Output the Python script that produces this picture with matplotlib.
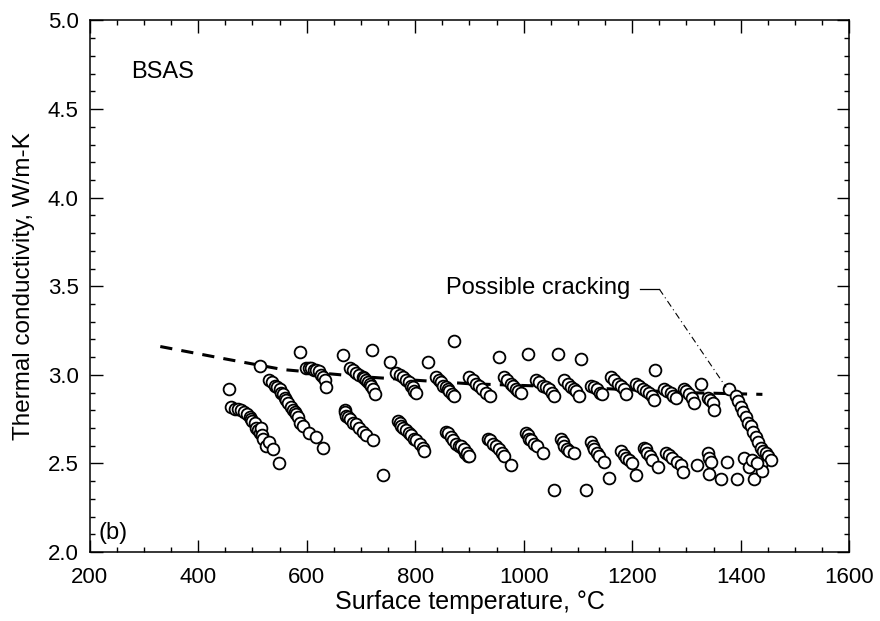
import matplotlib.pyplot as plt
from matplotlib.ticker import MultipleLocator

plt.rcParams['font.family'] = ['Liberation Sans', 'DejaVu Sans']

# measured points (surface temperature, C / thermal conductivity, W/m-K)
temp = [
    456, 514, 587, 666, 721, 740, 754, 823, 872, 954, 1008, 1064, 1105, 1242, 1326, 1379, 1056, 1115, 1158,
    461, 468, 473, 478, 485, 490, 495, 498, 500, 504, 507, 510, 513, 515, 518, 520, 525, 530, 538, 549,
    531, 536, 541, 546, 550, 553, 556, 559, 562, 566, 571, 575, 578, 581, 584, 588, 593, 605, 617, 630,
    599, 604, 608, 613, 617, 622, 627, 630, 633, 636,
    679, 685, 691, 697, 703, 706, 709, 713, 716, 719, 722, 725,
    670, 671, 673, 676, 679, 685, 691, 697, 703, 709, 722,
    765, 771, 777, 783, 789, 792, 795, 798, 801,
    768, 771, 774, 778, 783, 788, 792, 797, 801, 808, 814, 817,
    838, 843, 848, 852, 857, 860, 863, 868, 872,
    857, 861, 866, 870, 875, 881, 887, 892, 897,
    900, 906, 912, 918, 924, 930, 937,
    884, 890, 895, 900,
    964, 970, 976, 981, 986, 990, 995,
    934, 938, 943, 949, 955, 960, 964, 976,
    1022, 1028, 1035, 1041, 1047, 1052, 1056,
    1004, 1007, 1010, 1014, 1019, 1024, 1035,
    1075, 1081, 1087, 1092, 1096, 1102,
    1069, 1072, 1075, 1080, 1084, 1093,
    1124, 1130, 1136, 1140, 1145,
    1124, 1127, 1130, 1135, 1139, 1148,
    1161, 1167, 1173, 1179, 1185, 1188,
    1179, 1184, 1188, 1194, 1200, 1207,
    1207, 1213, 1219, 1225, 1231, 1236, 1240,
    1222, 1225, 1228, 1233, 1237, 1247,
    1259, 1265, 1271, 1276, 1280,
    1262, 1268, 1274, 1282, 1290, 1293,
    1296, 1300, 1305, 1310, 1314,
    1339, 1344, 1348, 1351,
    1320, 1339, 1342, 1345, 1342, 1363,
    1391, 1395, 1400, 1404, 1409, 1414, 1419, 1423, 1428, 1432, 1437, 1442, 1446, 1450, 1455,
    1375, 1394, 1406, 1425, 1416, 1437, 1440, 1420, 1430,
]
cond = [
    2.92, 3.05, 3.13, 3.11, 3.14, 2.435, 3.075, 3.07, 3.19, 3.10, 3.12, 3.12, 3.09, 3.03, 2.95, 2.92, 2.35, 2.35, 2.42,
    2.82, 2.81, 2.81, 2.80, 2.79, 2.78, 2.76, 2.75, 2.74, 2.73, 2.70, 2.69, 2.67, 2.70, 2.66, 2.64, 2.60, 2.62, 2.58, 2.50,
    2.97, 2.96, 2.94, 2.93, 2.92, 2.90, 2.89, 2.87, 2.86, 2.84, 2.82, 2.80, 2.79, 2.78, 2.76, 2.73, 2.71, 2.67, 2.65, 2.59,
    3.04, 3.04, 3.04, 3.03, 3.03, 3.02, 3.00, 2.99, 2.97, 2.93,
    3.04, 3.03, 3.01, 3.00, 2.99, 2.98, 2.97, 2.96, 2.95, 2.94, 2.92, 2.89,
    2.80, 2.79, 2.77, 2.76, 2.75, 2.73, 2.72, 2.70, 2.68, 2.66, 2.63,
    3.01, 3.00, 2.99, 2.97, 2.96, 2.94, 2.93, 2.91, 2.90,
    2.74, 2.73, 2.71, 2.70, 2.69, 2.67, 2.66, 2.64, 2.63, 2.61, 2.59, 2.57,
    2.99, 2.97, 2.96, 2.94, 2.93, 2.92, 2.91, 2.89, 2.88,
    2.68, 2.67, 2.65, 2.63, 2.61, 2.60, 2.59, 2.56, 2.54,
    2.99, 2.97, 2.95, 2.94, 2.92, 2.90, 2.88,
    2.60, 2.58, 2.56, 2.54,
    2.99, 2.97, 2.95, 2.94, 2.92, 2.91, 2.90,
    2.64, 2.63, 2.61, 2.60, 2.58, 2.56, 2.54, 2.49,
    2.97, 2.96, 2.94, 2.93, 2.92, 2.90, 2.88,
    2.67, 2.66, 2.64, 2.63, 2.61, 2.60, 2.56,
    2.97, 2.95, 2.93, 2.92, 2.91, 2.88,
    2.64, 2.62, 2.60, 2.58, 2.57, 2.56,
    2.94, 2.93, 2.92, 2.90, 2.89,
    2.62, 2.60, 2.58, 2.56, 2.54, 2.51,
    2.99, 2.97, 2.95, 2.94, 2.92, 2.89,
    2.57, 2.55, 2.53, 2.52, 2.50, 2.435,
    2.95, 2.94, 2.92, 2.91, 2.90, 2.88, 2.86,
    2.59, 2.58, 2.56, 2.54, 2.52, 2.48,
    2.92, 2.91, 2.90, 2.88, 2.87,
    2.56, 2.55, 2.53, 2.51, 2.49, 2.45,
    2.92, 2.91, 2.89, 2.87, 2.84,
    2.87, 2.86, 2.84, 2.80,
    2.49, 2.56, 2.53, 2.51, 2.44, 2.41,
    2.88, 2.85, 2.82, 2.79, 2.76, 2.73, 2.71, 2.68, 2.65, 2.62, 2.59, 2.57, 2.56, 2.54, 2.52,
    2.51, 2.41, 2.53, 2.41, 2.48, 2.49, 2.46, 2.52, 2.50,
]

# dashed trend curve
trend_t = [330, 450, 556, 700, 900, 1100, 1300, 1440]
trend_k = [3.16, 3.09, 3.03, 2.99, 2.95, 2.93, 2.90, 2.89]

# leader for the "Possible cracking" note
leader_t = [1215, 1250, 1373]
leader_k = [3.484, 3.484, 2.93]

fig = plt.figure(figsize=(8.8, 6.21), dpi=100)
ax = fig.add_axes([0.102, 0.111, 0.863, 0.856])

ax.plot(trend_t, trend_k, color='black', linewidth=2.2, dashes=(4, 3), zorder=1)
ax.scatter(temp, cond, s=72, facecolor='white', edgecolor='black', linewidths=1.3, zorder=2)

ax.plot(leader_t[:2], leader_k[:2], color='black', linewidth=0.9)
ax.plot(leader_t[1:], leader_k[1:], color='black', linewidth=0.8, linestyle=(0, (6, 3, 1, 3)))
ax.text(1196, 3.49, 'Possible cracking', fontsize=17, ha='right', va='center')

ax.text(277, 4.71, 'BSAS', fontsize=17, ha='left', va='center')
ax.text(216, 2.11, '(b)', fontsize=17, ha='left', va='center')

ax.set_xlim(200, 1600)
ax.set_ylim(2.0, 5.0)
ax.xaxis.set_major_locator(MultipleLocator(200))
ax.xaxis.set_minor_locator(MultipleLocator(50))
ax.yaxis.set_major_locator(MultipleLocator(0.5))
ax.yaxis.set_minor_locator(MultipleLocator(0.1))
ax.yaxis.set_major_formatter(plt.FormatStrFormatter('%.1f'))
ax.tick_params(which='both', direction='in', top=True, right=True, width=1)
ax.tick_params(which='major', length=9, labelsize=16)
ax.tick_params(which='minor', length=3.5)
ax.tick_params(axis='x', which='major', pad=11)
ax.tick_params(axis='y', which='major', pad=8)
for s in ax.spines.values():
    s.set_linewidth(1.1)

ax.set_xlabel('Surface temperature, °C', fontsize=18, labelpad=1)
ax.set_ylabel('Thermal conductivity, W/m-K', fontsize=17.5, labelpad=9)

plt.savefig('out.png', dpi=100)
